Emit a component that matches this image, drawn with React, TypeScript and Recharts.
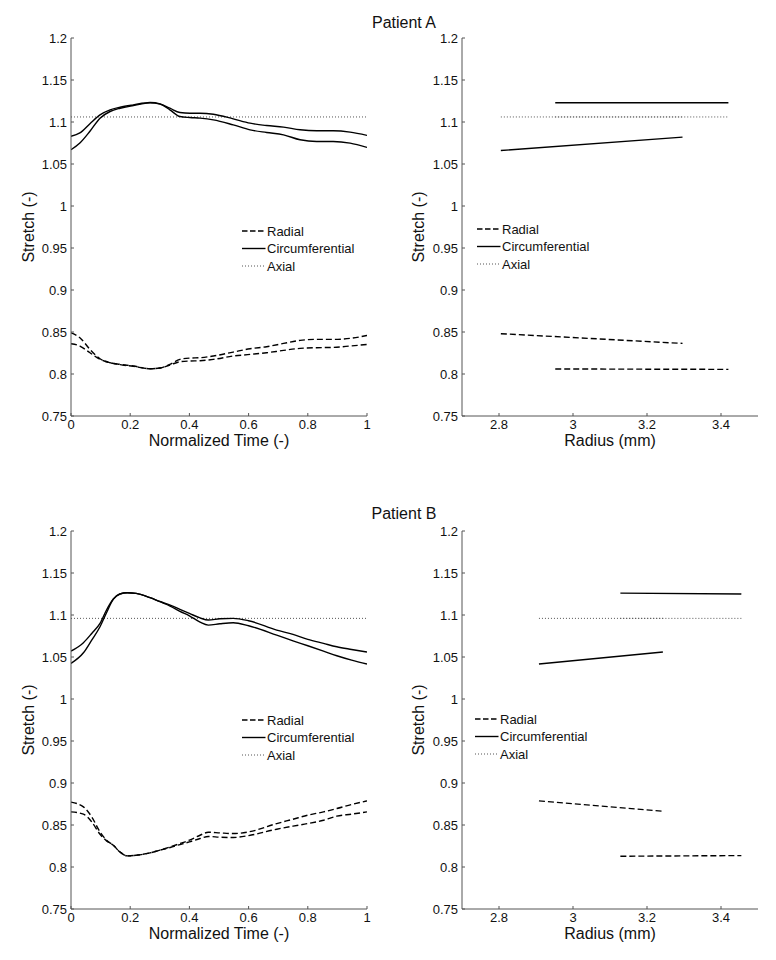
import React from "react";
import { LineChart, Line, XAxis, YAxis, Legend, Label } from "recharts";

const FONT = '"Liberation Sans", Arial, Helvetica, sans-serif';

// y axis, shared by all four panels
const stretchTicks = [0.75, 0.8, 0.85, 0.9, 0.95, 1, 1.05, 1.1, 1.15, 1.2];
const timeTicks = [0, 0.2, 0.4, 0.6, 0.8, 1];
const radiusTicks = [2.8, 3, 3.2, 3.4];

// Patient A, stretch over the normalized cycle (inner / outer wall)
const timeA = [0, 0.03, 0.064, 0.098, 0.132, 0.166, 0.211, 0.267, 0.301, 0.334, 0.368, 0.402, 0.436, 0.481, 0.548, 0.605, 0.661, 0.718, 0.774, 0.83, 0.886, 0.943, 1];
const radialInnerA = [0.849, 0.8432, 0.8293, 0.8182, 0.8134, 0.8115, 0.8095, 0.8063, 0.8071, 0.8115, 0.8174, 0.819, 0.8194, 0.8214, 0.8261, 0.8301, 0.8325, 0.8364, 0.84, 0.8412, 0.8412, 0.8424, 0.8459];
const radialOuterA = [0.836, 0.8333, 0.8253, 0.8174, 0.8134, 0.8111, 0.8091, 0.8063, 0.8071, 0.8107, 0.8146, 0.8154, 0.8158, 0.8174, 0.8214, 0.8233, 0.8253, 0.8281, 0.8305, 0.8313, 0.8317, 0.8333, 0.8352];
const circInnerA = [1.067, 1.075, 1.089, 1.1046, 1.1125, 1.1164, 1.1196, 1.1228, 1.1212, 1.1145, 1.1065, 1.1053, 1.1046, 1.1026, 1.0966, 1.0907, 1.0875, 1.0847, 1.0788, 1.0768, 1.0768, 1.0748, 1.0697];
const circOuterA = [1.083, 1.087, 1.098, 1.1085, 1.1145, 1.1176, 1.1204, 1.1232, 1.1216, 1.1164, 1.1113, 1.1105, 1.1105, 1.1093, 1.1038, 1.0986, 1.0958, 1.0939, 1.0907, 1.0895, 1.0895, 1.0879, 1.084];
const axialA = 1.106;

// Patient A, stretch across the wall at two instants
const radiusStartA = [2.805, 3.296];
const radiusPeakA = [2.952, 3.42];
const radialStartA = [0.848, 0.8364];
const radialPeakA = [0.806, 0.8055];
const circStartA = [1.066, 1.082];
const circPeakA = [1.123, 1.123];

// Patient B, stretch over the normalized cycle
const timeB = [0, 0.042, 0.07, 0.098, 0.12, 0.143, 0.165, 0.19, 0.22, 0.267, 0.3, 0.335, 0.368, 0.4, 0.436, 0.464, 0.503, 0.548, 0.6, 0.695, 0.75, 0.8, 0.853, 0.898, 0.948, 1];
const radialInnerB = [0.8772, 0.8716, 0.8597, 0.8418, 0.8319, 0.8259, 0.818, 0.8132, 0.814, 0.8168, 0.82, 0.8239, 0.8279, 0.8319, 0.8378, 0.8414, 0.8406, 0.8398, 0.8418, 0.8517, 0.8569, 0.8617, 0.8656, 0.8696, 0.8744, 0.8787];
const radialOuterB = [0.8656, 0.8629, 0.8537, 0.839, 0.8311, 0.8259, 0.818, 0.8132, 0.814, 0.8168, 0.82, 0.8232, 0.8267, 0.8299, 0.8339, 0.8363, 0.8355, 0.8351, 0.8374, 0.845, 0.8486, 0.8517, 0.8557, 0.8605, 0.8629, 0.8656];
const circInnerB = [1.0424, 1.055, 1.0701, 1.086, 1.1027, 1.119, 1.125, 1.1265, 1.1257, 1.1206, 1.1158, 1.1107, 1.1043, 1.0991, 1.0915, 1.088, 1.0896, 1.0908, 1.0872, 1.0761, 1.0693, 1.0634, 1.057, 1.0515, 1.0463, 1.0416];
const circOuterB = [1.057, 1.067, 1.078, 1.09, 1.106, 1.119, 1.125, 1.1265, 1.1257, 1.1206, 1.1162, 1.1118, 1.1067, 1.1019, 1.0965, 1.094, 1.0955, 1.096, 1.0932, 1.082, 1.0769, 1.071, 1.0662, 1.0622, 1.059, 1.0559];
const axialB = 1.096;

// Patient B, across the wall
const radiusStartB = [2.908, 3.243];
const radiusPeakB = [3.128, 3.455];
const radialStartB = [0.8787, 0.8664];
const radialPeakB = [0.8128, 0.8136];
const circStartB = [1.0416, 1.056];
const circPeakB = [1.126, 1.125];

const timeRows = (t: number[], rIn: number[], rOut: number[], cIn: number[], cOut: number[], axial: number) =>
  t.map((x, i) => ({ t: x, rIn: rIn[i], rOut: rOut[i], cIn: cIn[i], cOut: cOut[i], axial }));

const wallRows = (r: number[], v: number[]) => r.map((x, i) => ({ r: x, v: v[i] }));
const flatRows = (r: number[], v: number) => r.map((x) => ({ r: x, v }));

const dashed = { stroke: "#000", strokeWidth: 1.4, strokeDasharray: "6 3" };
const solid = { stroke: "#000", strokeWidth: 1.4 };
const dotted = { stroke: "#555", strokeWidth: 1, strokeDasharray: "1 2" };

function StretchLegend() {
  const rows = [
    { label: "Radial", style: { ...dashed, strokeDasharray: "5.5 2.5" } },
    { label: "Circumferential", style: solid },
    { label: "Axial", style: dotted },
  ];
  return (
    <svg width={130} height={54} style={{ display: "block" }}>
      {rows.map((row, i) => {
        const y = 9 + i * 17.5;
        return (
          <g key={row.label}>
            <line x1={2} x2={25.5} y1={y} y2={y} {...row.style} />
            <text x={27} y={y + 4.6} fontSize={13} fontFamily={FONT} fill="#111">
              {row.label}
            </text>
          </g>
        );
      })}
    </svg>
  );
}

const PLOT_H = 378;
const AXIS_H = 35;

interface PanelProps {
  left: number;
  top: number;
  width: number;
  height: number;
  axisW: number;
  plotTop: number;
  plotW: number;
  xKey: string;
  xDomain: [number, number];
  xTicks: number[];
  xLabel: string;
  yLabelX: number;
  legendAt: { left: number; top: number };
  data?: any[];
  children: React.ReactNode;
}

function Panel(p: PanelProps) {
  const right = p.width - p.axisW - p.plotW;
  const bottom = p.height - p.plotTop - PLOT_H - AXIS_H;
  const midY = p.plotTop + PLOT_H / 2;
  const xMid = p.axisW + p.plotW / 2;
  const xBase = p.plotTop + PLOT_H + 30;
  const tick = { fontSize: 13, fontFamily: FONT, fill: "#111" };
  return (
    <div style={{ position: "absolute", left: p.left, top: p.top }}>
      <LineChart width={p.width} height={p.height} data={p.data} margin={{ top: p.plotTop, right, bottom, left: 0 }}>
        <XAxis
          dataKey={p.xKey}
          type="number"
          domain={p.xDomain}
          ticks={p.xTicks}
          height={AXIS_H}
          tickSize={-3}
          tickMargin={7}
          tick={tick}
          stroke="#555"
          allowDataOverflow
        >
          <Label
            content={() => (
              <text x={xMid} y={xBase} textAnchor="middle" fontSize={16} fontFamily={FONT} fill="#111">
                {p.xLabel}
              </text>
            )}
          />
        </XAxis>
        <YAxis
          type="number"
          domain={[0.75, 1.2]}
          ticks={stretchTicks}
          width={p.axisW}
          tickSize={-3}
          tickMargin={7}
          tick={tick}
          stroke="#555"
          allowDataOverflow
        >
          <Label
            content={() => (
              <text
                x={p.yLabelX}
                y={midY}
                transform={`rotate(-90 ${p.yLabelX} ${midY})`}
                textAnchor="middle"
                fontSize={16}
                fontFamily={FONT}
                fill="#111"
              >
                Stretch (-)
              </text>
            )}
          />
        </YAxis>
        <Legend
          layout="vertical"
          align="center"
          verticalAlign="middle"
          content={<StretchLegend />}
          wrapperStyle={{ position: "absolute", left: p.legendAt.left, top: p.legendAt.top, width: 130, height: 54 }}
        />
        {p.children}
      </LineChart>
    </div>
  );
}

function TimeSeries() {
  return (
    <>
      <Line dataKey="axial" type="linear" dot={false} activeDot={false} {...dotted} isAnimationActive={false} />
      <Line dataKey="rIn" type="monotone" dot={false} activeDot={false} {...dashed} isAnimationActive={false} />
      <Line dataKey="rOut" type="monotone" dot={false} activeDot={false} {...dashed} isAnimationActive={false} />
      <Line dataKey="cIn" type="monotone" dot={false} activeDot={false} {...solid} isAnimationActive={false} />
      <Line dataKey="cOut" type="monotone" dot={false} activeDot={false} {...solid} isAnimationActive={false} />
    </>
  );
}

function WallSeries(props: {
  rStart: number[];
  rPeak: number[];
  radialStart: number[];
  radialPeak: number[];
  circStart: number[];
  circPeak: number[];
  axial: number;
}) {
  const series = [
    { id: "axStart", data: flatRows(props.rStart, props.axial), style: dotted },
    { id: "axPeak", data: flatRows(props.rPeak, props.axial), style: dotted },
    { id: "radStart", data: wallRows(props.rStart, props.radialStart), style: dashed },
    { id: "radPeak", data: wallRows(props.rPeak, props.radialPeak), style: dashed },
    { id: "circStart", data: wallRows(props.rStart, props.circStart), style: solid },
    { id: "circPeak", data: wallRows(props.rPeak, props.circPeak), style: solid },
  ];
  return (
    <>
      {series.map((s) => (
        <Line
          key={s.id}
          name={s.id}
          data={s.data}
          dataKey="v"
          type="linear"
          dot={false}
          activeDot={false}
          {...s.style}
          isAnimationActive={false}
        />
      ))}
    </>
  );
}

export default function App() {
  const dataA = timeRows(timeA, radialInnerA, radialOuterA, circInnerA, circOuterA, axialA);
  const dataB = timeRows(timeB, radialInnerB, radialOuterB, circInnerB, circOuterB, axialB);
  return (
    <div style={{ position: "relative", width: 776, height: 960, background: "#fff", fontFamily: FONT }}>
      <style>{`body { margin: 0; }`}</style>
      <svg width={776} height={960} style={{ position: "absolute", left: 0, top: 0, pointerEvents: "none" }}>
        <text x={404} y={27.5} textAnchor="middle" fontSize={16} fontFamily={FONT} fill="#111">Patient A</text>
        <text x={404} y={519} textAnchor="middle" fontSize={16} fontFamily={FONT} fill="#111">Patient B</text>
      </svg>

      <Panel
        left={0} top={0} width={380} height={470} axisW={71} plotTop={38} plotW={296}
        xKey="t" xDomain={[0, 1]} xTicks={timeTicks} xLabel="Normalized Time (-)"
        yLabelX={33.5} legendAt={{ left: 240, top: 222 }} data={dataA}
      >
        <TimeSeries />
      </Panel>

      <Panel
        left={380} top={0} width={396} height={470} axisW={82} plotTop={38} plotW={296}
        xKey="r" xDomain={[2.7, 3.5]} xTicks={radiusTicks} xLabel="Radius (mm)"
        yLabelX={43.5} legendAt={{ left: 95, top: 220 }}
      >
        <WallSeries
          rStart={radiusStartA} rPeak={radiusPeakA}
          radialStart={radialStartA} radialPeak={radialPeakA}
          circStart={circStartA} circPeak={circPeakA} axial={axialA}
        />
      </Panel>

      <Panel
        left={0} top={470} width={380} height={490} axisW={71} plotTop={61} plotW={296}
        xKey="t" xDomain={[0, 1]} xTicks={timeTicks} xLabel="Normalized Time (-)"
        yLabelX={33.5} legendAt={{ left: 240, top: 241 }} data={dataB}
      >
        <TimeSeries />
      </Panel>

      <Panel
        left={380} top={470} width={396} height={490} axisW={82} plotTop={61} plotW={296}
        xKey="r" xDomain={[2.7, 3.5]} xTicks={radiusTicks} xLabel="Radius (mm)"
        yLabelX={43.5} legendAt={{ left: 93, top: 240 }}
      >
        <WallSeries
          rStart={radiusStartB} rPeak={radiusPeakB}
          radialStart={radialStartB} radialPeak={radialPeakB}
          circStart={circStartB} circPeak={circPeakB} axial={axialB}
        />
      </Panel>
    </div>
  );
}
